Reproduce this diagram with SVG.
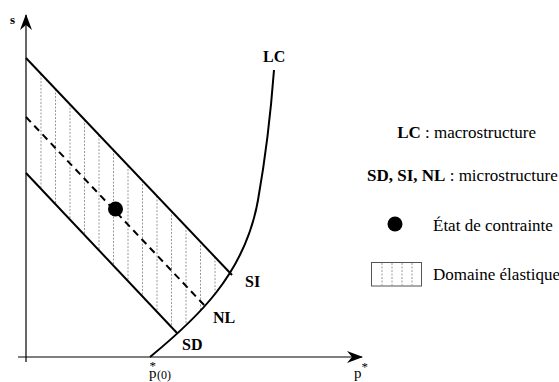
<svg xmlns="http://www.w3.org/2000/svg" width="559" height="382" viewBox="0 0 559 382">
<defs>
<style>
.ln{stroke:#000;stroke-width:2;fill:none}
.ax{stroke:#000;stroke-width:1.2;fill:none}
.dash{stroke:#000;stroke-width:2;fill:none;stroke-dasharray:7,5}
.h{stroke:#9a9a9a;stroke-width:1;stroke-dasharray:2,1.5;fill:none}
.t{font-family:"Liberation Serif","Times New Roman",serif;fill:#000}
.b{font-weight:bold}
</style>
<marker id="arr" markerWidth="16" markerHeight="14" refX="15" refY="7" orient="auto" markerUnits="userSpaceOnUse">
<path d="M0,1 L16,7 L0,13 L5,7 Z" fill="#000"/>
</marker>
</defs>
<rect width="559" height="382" fill="#fff"/>
<g id="connectors">
<line class="ax" x1="26" y1="362" x2="26" y2="15" marker-end="url(#arr)"/>
<line class="ax" x1="18" y1="357" x2="362" y2="357" marker-end="url(#arr)"/>
</g>
<g id="hatch">
<line class="h" x1="41" y1="74" x2="41" y2="189"/>
<line class="h" x1="55.5" y1="89" x2="55.5" y2="204"/>
<line class="h" x1="70" y1="104" x2="70" y2="219.5"/>
<line class="h" x1="84.5" y1="119.5" x2="84.5" y2="235"/>
<line class="h" x1="99" y1="135" x2="99" y2="250"/>
<line class="h" x1="113.5" y1="150" x2="113.5" y2="265.5"/>
<line class="h" x1="128" y1="165.5" x2="128" y2="281"/>
<line class="h" x1="142.5" y1="180.5" x2="142.5" y2="296.5"/>
<line class="h" x1="157" y1="196" x2="157" y2="312"/>
<line class="h" x1="171.5" y1="211" x2="171.5" y2="327"/>
<line class="h" x1="186" y1="226.5" x2="186" y2="324"/>
<line class="h" x1="200.5" y1="241.5" x2="200.5" y2="310.5"/>
<line class="h" x1="215" y1="257" x2="215" y2="294.5"/>
</g>
<g id="upper-line"><line class="ln" x1="26" y1="58" x2="232" y2="275"/></g>
<g id="mid-line"><line class="dash" x1="26" y1="117" x2="205" y2="306"/></g>
<g id="lower-line"><line class="ln" x1="26" y1="173" x2="177" y2="333"/></g>
<g id="LC-curve"><path class="ln" d="M150,357 C195,320 245,275 258,200 C266,155 271,110 274,70"/></g>
<g id="state"><circle cx="115.5" cy="209" r="7.5" fill="#000"/></g>
<g id="labels">
<text class="t b" x="10" y="24" font-size="13">s</text>
<text class="t b" x="263" y="62" font-size="16">LC</text>
<text class="t b" x="245" y="287" font-size="16">SI</text>
<text class="t b" x="213" y="323" font-size="16">NL</text>
<text class="t b" x="182" y="350" font-size="16">SD</text>
<text class="t" x="149" y="378" font-size="15">p<tspan font-size="13" dx="-7" dy="-8">*</tspan><tspan font-size="12" dx="1" dy="9">(0)</tspan></text>
<text class="t" x="354" y="378" font-size="15">p<tspan font-size="13" dy="-7">*</tspan></text>
</g>
<g id="legend">
<text class="t" x="536" y="138" font-size="17" text-anchor="end"><tspan class="b">LC</tspan> : macrostructure</text>
<text class="t" x="367" y="181" font-size="17"><tspan class="b">SD, SI, NL</tspan> : microstructure</text>
<circle cx="395" cy="224" r="7.5" fill="#000"/>
<text class="t" x="433" y="231" font-size="17">État de contrainte</text>
<rect x="371.5" y="262.5" width="50" height="23.5" fill="#fff" stroke="#555" stroke-width="1"/>
<line class="h" x1="382" y1="263" x2="382" y2="286"/>
<line class="h" x1="392" y1="263" x2="392" y2="286"/>
<line class="h" x1="402" y1="263" x2="402" y2="286"/>
<line class="h" x1="412" y1="263" x2="412" y2="286"/>
<text class="t" x="433" y="280" font-size="17">Domaine élastique</text>
</g>
</svg>
